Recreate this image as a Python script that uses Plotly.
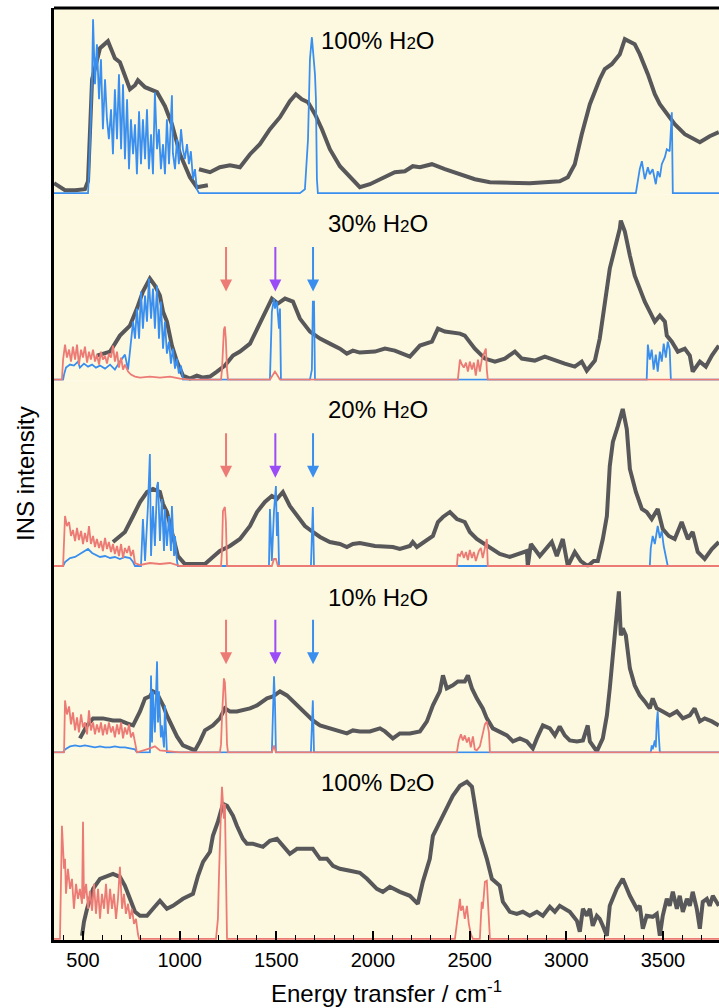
import plotly.graph_objects as go
from plotly.subplots import make_subplots

# ---------------- data (energy in cm^-1, intensity in arbitrary units) ----------------
# Panel 1: 100% H2O
p1_exp_E = [350, 381, 407, 459, 510, 526, 536, 547, 562, 588, 629, 665, 691, 717, 743, 769, 784, 821, 846, 883,
            924, 960, 1002, 1053, 1089, 1131, 1146, None, 1100, 1157, 1208, 1260, 1312, 1364, 1415, 1467, 1519,
            1570, 1601, 1632, 1664, 1700, 1736, 1777, 1829, 1881, 1906, 1932, 1984, 2036, 2113, 2165, 2206,
            2243, 2305, 2372, 2450, 2527, 2605, 2708, 2811, 2889, 2966, 3008, 3044, 3080, 3122, 3173, 3199,
            3235, 3277, 3303, 3354, 3380, 3422, 3458, 3484, 3561, 3613, 3691, 3742, 3789]
p1_exp_I = [10, 6, 3, 3, 4, 12, 60, 114, 125, 145, 152, 135, 131, 117, 104, 108, 113, 106, 104, 101,
            87, 69, 39, 16, 6, 7, 8, None, 24, 21, 26, 28, 26, 39, 49, 64, 76,
            92, 99, 94, 91, 79, 64, 44, 27, 16, 11, 6, 9, 14, 21, 22, 27,
            26, 29, 24, 19, 14, 11, 10, 10, 11, 12, 16, 29, 59, 89, 114, 124,
            129, 139, 154, 149, 139, 119, 99, 89, 69, 59, 51, 57, 61]
p1_blue_E = [350, 526, 531, 547, 552, 562, 572, 583, 593, 603, 614, 624, 634, 645, 655, 665, 676, 686, 697, 707,
             717, 728, 738, 748, 759, 769, 779, 790, 800, 810, 821, 831, 841, 852, 862, 872, 883, 893, 903, 914,
             924, 934, 945, 955, 960, 965, 976, 986, 996, 1007, 1017, 1027, 1038, 1048, 1058, 1069, 1079, 1089,
             1100, 1622, 1648, 1664, 1674, 1684, 1695, 1700, 1705, 1710, 1715, 3360, 3380, 3391, 3406, 3422,
             3432, 3447, 3463, 3473, 3484, 3494, 3510, 3520, 3535, 3546, 3551, 3800]
p1_blue_I = [0, 0, 20, 114, 174, 109, 149, 94, 134, 64, 114, 74, 54, 84, 39, 104, 54, 119, 44, 109,
             34, 94, 24, 74, 39, 69, 19, 82, 29, 74, 34, 84, 24, 59, 19, 101, 44, 64, 24, 49,
             19, 74, 29, 69, 98, 40, 24, 54, 29, 64, 44, 34, 49, 29, 42, 14, 24, 4,
             0, 0, 4, 54, 134, 156, 134, 119, 94, 14, 0, 0, 24, 32, 14, 26,
             19, 24, 9, 22, 16, 29, 36, 44, 42, 81, 0, 0]

# Panel 2: 30% H2O
p2_exp_E = [572, 640, 691, 743, 779, 810, 846, 872, 898, 914, 934, 960, 986, 1017, 1053, 1089, 1121, 1157, 1193,
            1234, 1276, 1312, 1364, 1400, 1431, 1477, 1508, 1545, 1586, 1622, 1674, 1726, 1777, 1829, 1865, 1896,
            1932, 2010, 2062, 2113, 2191, 2243, 2305, 2336, 2372, 2450, 2475, 2527, 2579, 2631, 2682, 2734, 2770,
            2837, 2889, 2941, 2992, 3044, 3080, 3106, 3148, 3173, 3199, 3225, 3251, 3277, 3282, 3303, 3329, 3354,
            3380, 3406, 3432, 3458, 3484, 3510, 3520, 3546, 3577, 3613, 3639, 3654, 3691, 3722, 3753, 3789]
p2_exp_I = [24, 28, 44, 54, 71, 88, 101, 94, 84, 68, 58, 34, 18, 4, 1, 4, 2, 3, 8,
            14, 24, 28, 36, 51, 64, 81, 76, 81, 78, 61, 48, 41, 36, 31, 26, 29,
            27, 28, 31, 29, 23, 34, 38, 51, 48, 46, 44, 31, 21, 18, 21, 28, 21,
            19, 23, 19, 16, 13, 18, 9, 19, 41, 78, 111, 131, 151, 159, 148, 124, 104,
            91, 78, 68, 58, 64, 58, 44, 38, 28, 31, 24, 8, 18, 13, 24, 34]
p2_blue_E = [350, 397, 402, 412, 433, 453, 474, 484, 505, 526, 547, 567, 588, 614, 640, 665, 691, 717, 733, 743,
             759, 769, 779, 790, 800, 810, 821, 831, 841, 852, 862, 872, 883, 893, 903, 914, 924, 934, 945, 955,
             965, 976, 986, 996, 1007, 1017, 1467, 1477, 1488, 1493, 1503, 1514, 1519, 1524, 1674, 1684, 1689,
             1695, 1700, 3416, 3422, 3432, 3442, 3452, 3463, 3473, 3484, 3494, 3504, 3515, 3525, 3535, 3541, 3800]
p2_blue_I = [0, 0, 5, 12, 15, 14, 18, 12, 16, 13, 15, 12, 14, 11, 15, 10, 18, 25, 10, 31,
             58, 41, 71, 41, 88, 51, 84, 58, 101, 61, 91, 51, 94, 41, 78, 31, 58, 26, 38, 16,
             31, 11, 21, 6, 14, 0, 0, 68, 81, 71, 78, 51, 71, 0, 0, 10, 78,
             78, 0, 0, 35, 20, 30, 10, 25, 8, 28, 18, 36, 22, 38, 30, 0, 0]
p2_red_E = [350, 391, 397, 407, 417, 428, 438, 448, 459, 469, 479, 490, 500, 510, 521, 531, 541, 552, 562, 572,
            583, 593, 603, 614, 624, 634, 645, 655, 665, 676, 686, 697, 707, 717, 733, 748, 769, 795, 846, 898,
            950, 1002, 1053, 1214, 1219, 1229, 1234, 1239, 1245, 1250, 1467, 1482, 1493, 1503, 1519, 2439, 2450,
            2460, 2470, 2481, 2491, 2501, 2512, 2522, 2532, 2543, 2553, 2563, 2574, 2584, 2589, 2594, 3800]
p2_red_I = [0, 0, 20, 35, 22, 30, 18, 33, 20, 35, 15, 30, 22, 33, 17, 28, 20, 30, 18, 25,
            15, 28, 20, 24, 16, 26, 22, 34, 18, 28, 12, 22, 10, 15, 8, 5, 3, 2, 3, 2,
            3, 1, 0, 0, 10, 50, 53, 40, 10, 0, 0, 5, 8, 5, 0, 0, 20,
            15, 12, 17, 8, 18, 10, 17, 4, 20, 8, 20, 25, 31, 10, 0, 0]

# Panel 3: 20% H2O
p3_exp_E = [655, 717, 759, 795, 831, 862, 898, 914, 934, 960, 991, 1027, 1079, 1131, 1172, 1208, 1260, 1312, 1364,
            1400, 1441, 1477, 1503, 1534, 1570, 1607, 1648, 1689, 1726, 1777, 1829, 1865, 1896, 1932, 2010, 2103,
            2139, 2191, 2206, 2227, 2269, 2310, 2336, 2362, 2398, 2434, 2475, 2501, 2537, 2589, 2656, 2708, 2760,
            2796, 2801, 2817, 2863, 2925, 2951, 2982, 3008, 3044, 3075, 3111, 3142, 3163, 3189, 3210, 3225, 3241,
            3267, 3292, 3313, 3329, 3360, 3391, 3416, 3442, 3473, 3499, 3530, 3561, 3597, 3629, 3654, 3680, 3716,
            3753, 3789]
p3_exp_I = [24, 34, 50, 64, 74, 77, 74, 62, 54, 34, 10, 2, 2, 2, 9, 15, 20, 27, 40,
            54, 64, 70, 67, 74, 60, 50, 40, 34, 29, 24, 22, 19, 22, 23, 20, 19,
            17, 20, 24, 19, 25, 30, 44, 49, 54, 47, 44, 34, 27, 20, 12, 9, 12,
            15, 0, 22, 10, 24, 10, 27, 0, 14, 5, 0, 5, 5, 27, 50, 100, 124,
            140, 157, 137, 97, 74, 57, 54, 47, 57, 37, 30, 27, 44, 27, 34, 14, 7,
            17, 24]
p3_blue_E = [350, 397, 407, 433, 459, 484, 510, 526, 547, 567, 588, 614, 640, 665, 691, 717, 743, 759, 769, 800,
             810, 821, 836, 846, 852, 862, 872, 883, 888, 898, 908, 919, 924, 934, 945, 955, 960, 971, 976, 986,
             991, 1462, 1467, 1477, 1488, 1498, 1503, 1508, 1514, 1679, 1689, 1695, 3432, 3437, 3447, 3458, 3468,
             3473, 3484, 3494, 3504, 3515, 3525, 3800]
p3_blue_I = [0, 0, 4, 8, 9, 12, 15, 17, 13, 11, 9, 10, 8, 9, 7, 9, 8, 4, 0, 0,
             47, 5, 60, 112, 10, 60, 20, 80, 84, 25, 67, 15, 57, 20, 50, 15, 60, 10, 30, 5,
             0, 0, 57, 5, 55, 80, 30, 54, 0, 0, 59, 0, 0, 18, 30, 22, 38,
             40, 28, 35, 20, 10, 0, 0]
p3_red_E = [350, 397, 407, 417, 428, 438, 448, 459, 469, 479, 490, 500, 510, 521, 531, 541, 552, 562, 572, 583,
            593, 603, 614, 624, 634, 645, 655, 665, 676, 686, 697, 707, 717, 728, 738, 748, 759, 769, 795, 846,
            898, 950, 1002, 1214, 1219, 1224, 1234, 1239, 1245, 1477, 1488, 1498, 1508, 2434, 2439, 2450, 2460,
            2470, 2481, 2491, 2501, 2512, 2522, 2532, 2548, 2558, 2568, 2579, 2589, 2594, 3800]
p3_red_I = [0, 0, 50, 40, 44, 30, 36, 25, 38, 26, 35, 22, 33, 24, 40, 22, 30, 19, 27, 18,
            25, 15, 28, 17, 24, 14, 22, 12, 20, 10, 22, 8, 18, 13, 20, 10, 16, 3, 1, 3,
            2, 3, 0, 0, 15, 55, 59, 45, 0, 0, 7, 7, 0, 0, 12, 10, 15,
            8, 14, 6, 16, 8, 14, 5, 15, 18, 8, 20, 27, 0, 0]

# Panel 4: 10% H2O
p4_exp_E = [484, 521, 552, 603, 655, 691, 728, 759, 795, 821, 846, 862, 883, 914, 934, 960, 986, 1017, 1053, 1079,
            1105, 1131, 1172, 1208, 1234, 1260, 1296, 1327, 1364, 1400, 1431, 1452, 1483, 1519, 1555, 1586, 1622,
            1658, 1689, 1726, 1777, 1829, 1865, 1896, 1932, 1984, 2036, 2062, 2103, 2139, 2191, 2243, 2279, 2310,
            2346, 2362, 2382, 2413, 2439, 2475, 2491, 2512, 2537, 2568, 2589, 2620, 2656, 2693, 2724, 2760, 2796,
            2827, 2848, 2879, 2915, 2941, 2966, 2992, 3018, 3055, 3086, 3111, 3122, 3158, 3189, 3210, 3225, 3241,
            3261, 3272, 3282, 3292, 3308, 3329, 3354, 3380, 3406, 3432, 3447, 3468, 3499, 3535, 3572, 3603, 3639,
            3664, 3691, 3716, 3753, 3789]
p4_exp_I = [14, 27, 34, 34, 32, 32, 29, 27, 41, 54, 56, 61, 59, 47, 37, 27, 16, 7, 4, 2,
            11, 22, 27, 34, 44, 41, 41, 42, 44, 47, 51, 54, 56, 61, 57, 51, 44,
            37, 32, 27, 24, 21, 19, 22, 21, 21, 24, 21, 14, 19, 19, 21, 31, 47,
            61, 77, 64, 67, 71, 71, 77, 64, 54, 44, 34, 24, 21, 17, 11, 14, 11,
            4, 14, 27, 24, 17, 26, 17, 12, 11, 12, 27, 11, 1, 14, 37, 64, 97,
            141, 161, 117, 124, 117, 84, 67, 57, 51, 44, 54, 44, 41, 37, 41, 34, 37,
            44, 31, 34, 31, 27]
p4_blue_E = [350, 397, 407, 433, 459, 484, 510, 536, 562, 588, 614, 640, 665, 691, 717, 743, 769, 779, 846, 852,
             857, 862, 872, 883, 888, 893, 903, 908, 919, 924, 929, 934, 1477, 1482, 1488, 1493, 1498, 1679, 1689,
             1695, 3437, 3442, 3447, 3458, 3463, 3468, 3473, 3479, 3484, 3800]
p4_blue_I = [0, 0, 3, 6, 7, 6, 7, 6, 5, 6, 5, 5, 6, 5, 5, 4, 3, 0, 0, 77,
             10, 61, 20, 91, 30, 61, 15, 27, 5, 47, 10, 0, 0, 44, 76, 50, 0, 0, 52,
             0, 0, 7, 3, 12, 5, 30, 41, 15, 0, 0]
p4_red_E = [350, 402, 407, 417, 428, 438, 448, 459, 469, 479, 490, 500, 510, 521, 531, 541, 552, 562, 572, 583,
            593, 603, 614, 624, 634, 645, 655, 665, 676, 686, 697, 707, 717, 728, 738, 748, 759, 769, 779, 846,
            872, 898, 950, 1002, 1208, 1214, 1219, 1224, 1229, 1234, 1239, 1245, 1250, 1477, 1488, 1498, 2434,
            2444, 2455, 2465, 2475, 2486, 2496, 2506, 2517, 2527, 2537, 2553, 2568, 2579, 2589, 2600, 2605, 3800]
p4_red_I = [0, 0, 52, 38, 46, 28, 40, 22, 35, 20, 38, 25, 30, 18, 42, 22, 30, 18, 28, 20,
            30, 17, 28, 18, 30, 20, 26, 15, 28, 18, 30, 14, 25, 18, 28, 15, 20, 10, 0, 4,
            6, 2, 1, 0, 0, 8, 35, 65, 74, 70, 50, 8, 0, 0, 7, 0, 0,
            12, 18, 12, 17, 10, 15, 5, 16, 3, 2, 6, 20, 28, 31, 20, 0, 0]

# Panel 5: 100% D2O
p5_exp_E = [495, 505, 521, 552, 588, 624, 655, 691, 717, 743, 769, 795, 831, 862, 898, 934, 965, 1017, 1069, 1095,
            1121, 1157, 1172, 1198, 1224, 1245, 1276, 1296, 1327, 1348, 1379, 1431, 1467, 1503, 1534, 1570, 1607,
            1658, 1689, 1726, 1762, 1793, 1829, 1881, 1932, 1969, 2020, 2051, 2087, 2139, 2191, 2232, 2258, 2294,
            2310, 2346, 2382, 2413, 2450, 2486, 2512, 2537, 2553, 2589, 2615, 2656, 2672, 2708, 2744, 2775, 2811,
            2848, 2879, 2915, 2941, 2966, 3018, 3055, 3070, 3086, 3106, 3122, 3137, 3158, 3173, 3189, 3210, 3225,
            3261, 3292, 3329, 3365, 3380, 3396, 3416, 3447, 3468, 3484, 3499, 3520, 3535, 3551, 3572, 3587, 3603,
            3624, 3639, 3654, 3675, 3691, 3706, 3727, 3742, 3758, 3789]
p5_exp_I = [3, 17, 30, 50, 60, 63, 65, 62, 53, 40, 27, 23, 23, 30, 38, 30, 33, 40, 45, 63,
            77, 87, 103, 117, 135, 133, 123, 113, 100, 95, 95, 92, 98, 100, 93, 85, 90,
            90, 90, 80, 80, 73, 70, 68, 66, 60, 50, 47, 52, 47, 43, 35, 57, 80,
            103, 117, 130, 143, 153, 157, 152, 123, 103, 80, 60, 53, 37, 27, 25, 27, 23,
            27, 23, 32, 27, 33, 27, 18, 7, 30, 23, 30, 13, 23, 20, 13, 3, 33,
            50, 60, 43, 30, 33, 10, 23, 22, 25, 3, 23, 40, 33, 47, 30, 43, 27,
            40, 33, 47, 30, 10, 37, 40, 33, 43, 33]
p5_red_E = [350, 381, 391, 402, 407, 412, 422, 433, 443, 453, 464, 474, 484, 495, 500, 505, 516, 526, 536, 547,
            557, 567, 578, 588, 598, 609, 619, 629, 640, 650, 660, 671, 681, 691, 702, 712, 722, 733, 743, 753,
            764, 774, 784, 790, 1188, 1198, 1203, 1208, 1214, 1219, 1224, 1229, 1234, 1239, 1245, 2424, 2434,
            2444, 2450, 2455, 2465, 2475, 2486, 2496, 2506, 2517, 2553, 2558, 2563, 2568, 2579, 2589, 2594, 2605, 3800]
p5_red_I = [0, 0, 113, 70, 80, 45, 70, 50, 60, 30, 55, 40, 50, 35, 117, 40, 55, 30, 48, 28,
            55, 25, 50, 20, 45, 30, 55, 25, 50, 30, 45, 20, 40, 72, 30, 45, 25, 35, 20, 30,
            15, 20, 5, 0, 0, 20, 60, 100, 130, 152, 140, 120, 135, 80, 0, 0, 15,
            30, 40, 28, 33, 20, 33, 15, 5, 0, 0, 20, 37, 30, 57, 58, 40, 0, 0]

SUB = "<span style='font-size:17px'>2</span>"
panel_labels = ["100% H" + SUB + "O", "30% H" + SUB + "O", "20% H" + SUB + "O",
                "10% H" + SUB + "O", "100% D" + SUB + "O"]
arrow_E = [1240, 1495, 1690]
arrow_colors = ["#ec7b75", "#9a4cf7", "#3a8fee"]

x_ticks = [500, 1000, 1500, 2000, 2500, 3000, 3500]
x_title = "Energy transfer / cm<sup>-1</sup>"
y_title = "INS intensity"

# ---------------- figure ----------------
GRAY = "#58585a"
BLUE = "#3a8fee"
RED = "#ec7b75"
BG = "#fdf9e0"
FONT = "Liberation Sans, Arial, Helvetica, sans-serif"

fig = make_subplots(rows=5, cols=1, shared_xaxes=True, vertical_spacing=0)

panels = [
    (p1_exp_E, p1_exp_I, p1_blue_E, p1_blue_I, None, None),
    (p2_exp_E, p2_exp_I, p2_blue_E, p2_blue_I, p2_red_E, p2_red_I),
    (p3_exp_E, p3_exp_I, p3_blue_E, p3_blue_I, p3_red_E, p3_red_I),
    (p4_exp_E, p4_exp_I, p4_blue_E, p4_blue_I, p4_red_E, p4_red_I),
    (p5_exp_E, p5_exp_I, None, None, p5_red_E, p5_red_I),
]

for i, (eE, eI, bE, bI, rE, rI) in enumerate(panels, start=1):
    fig.add_trace(go.Scatter(x=eE, y=eI, mode="lines", line=dict(color=GRAY, width=4),
                             connectgaps=False, showlegend=False), row=i, col=1)
    if bE is not None:
        fig.add_trace(go.Scatter(x=bE, y=bI, mode="lines", line=dict(color=BLUE, width=1.8),
                                 showlegend=False), row=i, col=1)
    if rE is not None:
        fig.add_trace(go.Scatter(x=rE, y=rI, mode="lines", line=dict(color=RED, width=1.8),
                                 showlegend=False), row=i, col=1)

for i in range(1, 6):
    fig.update_yaxes(range=[-1.2, 185.2], showticklabels=False, ticks="", showgrid=False, zeroline=False,
                     showline=True, linecolor="black", linewidth=3, row=i, col=1)
    fig.update_xaxes(range=[350, 3790], showgrid=False, zeroline=False, row=i, col=1)

for i in range(1, 5):
    fig.update_xaxes(showticklabels=False, ticks="", showline=False, row=i, col=1)

fig.update_xaxes(showline=True, linecolor="black", linewidth=3, ticks="inside", ticklen=9, tickwidth=2,
                 tickcolor="black", tickvals=x_ticks, ticktext=[str(t) for t in x_ticks],
                 tickfont=dict(size=20, color="black", family=FONT),
                 minor=dict(ticks="inside", ticklen=5, tickwidth=1.2, tickcolor="black", dtick=100, tick0=0),
                 row=5, col=1)

annotations = []
label_offsets = [33, 29, 29, 30, 29]
for i in range(5):
    yref = "y domain" if i == 0 else f"y{i + 1} domain"
    xref = "x" if i == 0 else f"x{i + 1}"
    annotations.append(dict(x=2025, y=1 - label_offsets[i] / 186.4, xref=xref, yref=yref,
                            text=panel_labels[i], showarrow=False, xanchor="center", yanchor="middle",
                            font=dict(size=24, color="black", family=FONT)))

for i in [2, 3, 4]:
    for xe, col in zip(arrow_E, arrow_colors):
        annotations.append(dict(x=xe, y=1 - 97 / 186.4, xref=f"x{i}", yref=f"y{i} domain",
                                text="", showarrow=True, ax=0, ay=-46, arrowcolor=col,
                                arrowwidth=2, arrowhead=2, arrowsize=1.2, standoff=0))

annotations.append(dict(x=-29 / 665, y=0.5, xref="paper", yref="paper", text=y_title, showarrow=False,
                        textangle=-90, xanchor="center", yanchor="middle",
                        font=dict(size=24, color="black", family=FONT)))
annotations.append(dict(x=0.5, y=-52 / 932, xref="paper", yref="paper", text=x_title, showarrow=False,
                        xanchor="center", yanchor="middle",
                        font=dict(size=24, color="black", family=FONT)))

fig.update_layout(
    width=719, height=1008,
    margin=dict(l=54, r=0, t=8, b=68),
    plot_bgcolor=BG, paper_bgcolor="white",
    annotations=annotations,
    shapes=[dict(type="line", xref="paper", yref="paper", x0=0, x1=1, y0=1, y1=1,
                 line=dict(color="black", width=3))],
    font=dict(family=FONT, color="black"),
)

fig.write_html("out.html", config={"displayModeBar": False},
               post_script="document.body.style.margin='0px';document.body.style.overflow='hidden';")
